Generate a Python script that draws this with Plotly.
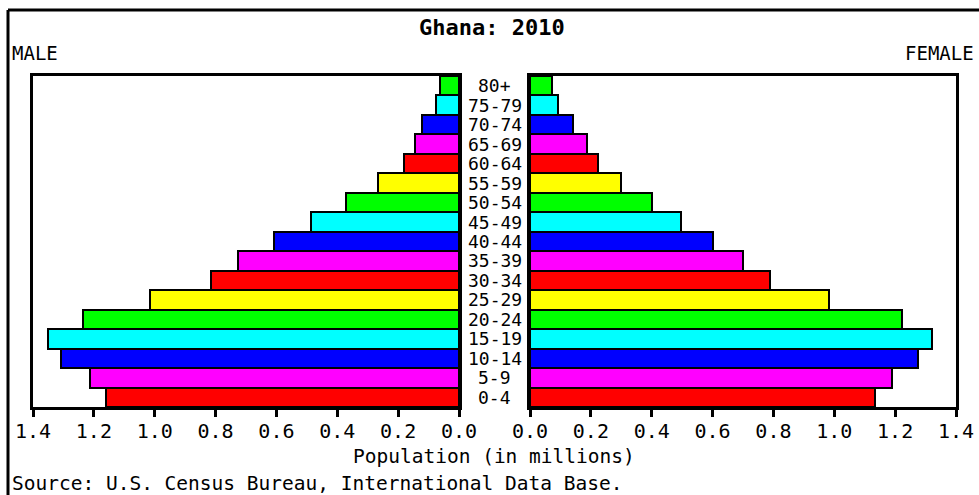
import plotly.graph_objects as go

age_groups = ["0-4", "5-9", "10-14", "15-19", "20-24", "25-29", "30-34", "35-39",
              "40-44", "45-49", "50-54", "55-59", "60-64", "65-69", "70-74", "75-79", "80+"]
male = [1.160, 1.213, 1.308, 1.351, 1.236, 1.015, 0.815, 0.726, 0.608, 0.486,
        0.371, 0.266, 0.180, 0.145, 0.120, 0.076, 0.062]
female = [1.134, 1.190, 1.275, 1.321, 1.222, 0.983, 0.789, 0.700, 0.601, 0.496,
          0.401, 0.299, 0.223, 0.187, 0.141, 0.092, 0.072]
palette = ["#ff0000", "#ff00ff", "#0000ff", "#00ffff", "#00ff00", "#ffff00"]
colors = [palette[i % len(palette)] for i in range(len(age_groups))]
tick_vals = [0.0, 0.2, 0.4, 0.6, 0.8, 1.0, 1.2, 1.4]

W, H = 979, 495
FONT = "DejaVu Sans Mono"

def px(x):
    return x / W

def py(y):
    return 1 - y / H

fig = go.Figure()
fig.add_trace(go.Bar(y=age_groups, x=male, orientation="h", xaxis="x", yaxis="y",
                     marker=dict(color=colors, line=dict(color="black", width=2)),
                     showlegend=False, hoverinfo="x+y"))
fig.add_trace(go.Bar(y=age_groups, x=female, orientation="h", xaxis="x2", yaxis="y2",
                     marker=dict(color=colors, line=dict(color="black", width=2)),
                     showlegend=False, hoverinfo="x+y"))

axis_common = dict(showline=True, linecolor="black", linewidth=3, mirror=True,
                   showgrid=False, zeroline=False, ticks="outside", ticklen=7,
                   tickwidth=3, tickcolor="black", tickvals=tick_vals, automargin=False,
                   ticklabelstandoff=-3,
                   tickformat=".1f", tickfont=dict(family=FONT, size=20, color="black"))
yaxis_common = dict(showline=True, linecolor="black", linewidth=3, mirror=True,
                    showgrid=False, zeroline=False, showticklabels=False, automargin=False,
                    categoryorder="array", categoryarray=age_groups,
                    range=[-0.5, len(age_groups) - 0.5])

fig.update_layout(
    width=W, height=H, margin=dict(l=0, r=0, t=0, b=0, pad=0, autoexpand=False),
    paper_bgcolor="white", plot_bgcolor="white", bargap=0,
    xaxis=dict(domain=[px(33), px(459)], range=[1.4, 0], anchor="y", **axis_common),
    xaxis2=dict(domain=[px(530), px(956)], range=[0, 1.4], anchor="y2", **axis_common),
    yaxis=dict(domain=[py(407), py(76)], anchor="x", **yaxis_common),
    yaxis2=dict(domain=[py(407), py(76)], anchor="x2", **yaxis_common),
)

annotations = []
for ag in age_groups:
    annotations.append(dict(x=px(494.5), xref="paper", y=ag, yref="y", text=ag,
                            showarrow=False, xanchor="center", yanchor="middle",
                            borderpad=0, borderwidth=0,
                            font=dict(family=FONT, size=18, color="black")))
annotations += [
    dict(x=px(492), y=py(27), xref="paper", yref="paper", text="<b>Ghana: 2010</b>",
         showarrow=False, xanchor="center", yanchor="middle",
         font=dict(family=FONT, size=22, color="black")),
    dict(x=px(10), y=py(53), xref="paper", yref="paper", text="MALE",
         showarrow=False, xanchor="left", yanchor="middle",
         font=dict(family=FONT, size=19, color="black")),
    dict(x=px(976), y=py(53), xref="paper", yref="paper", text="FEMALE",
         showarrow=False, xanchor="right", yanchor="middle",
         font=dict(family=FONT, size=19, color="black")),
    dict(x=px(494), y=py(456), xref="paper", yref="paper", text="Population (in millions)",
         showarrow=False, xanchor="center", yanchor="middle",
         font=dict(family=FONT, size=19.5, color="black")),
    dict(x=px(10), y=py(483), xref="paper", yref="paper",
         text="Source: U.S. Census Bureau, International Data Base.",
         showarrow=False, xanchor="left", yanchor="middle",
         font=dict(family=FONT, size=19.5, color="black")),
]
fig.update_layout(annotations=annotations)

fig.update_layout(shapes=[
    dict(type="line", xref="paper", yref="paper", x0=px(8), x1=1, y0=py(10), y1=py(10),
         line=dict(color="black", width=3)),
    dict(type="line", xref="paper", yref="paper", x0=px(8), x1=px(8), y0=0, y1=py(10),
         line=dict(color="black", width=3)),
])

fig.write_html("out.html", config={"displayModeBar": False},
               post_script="document.body.style.margin='0';")
